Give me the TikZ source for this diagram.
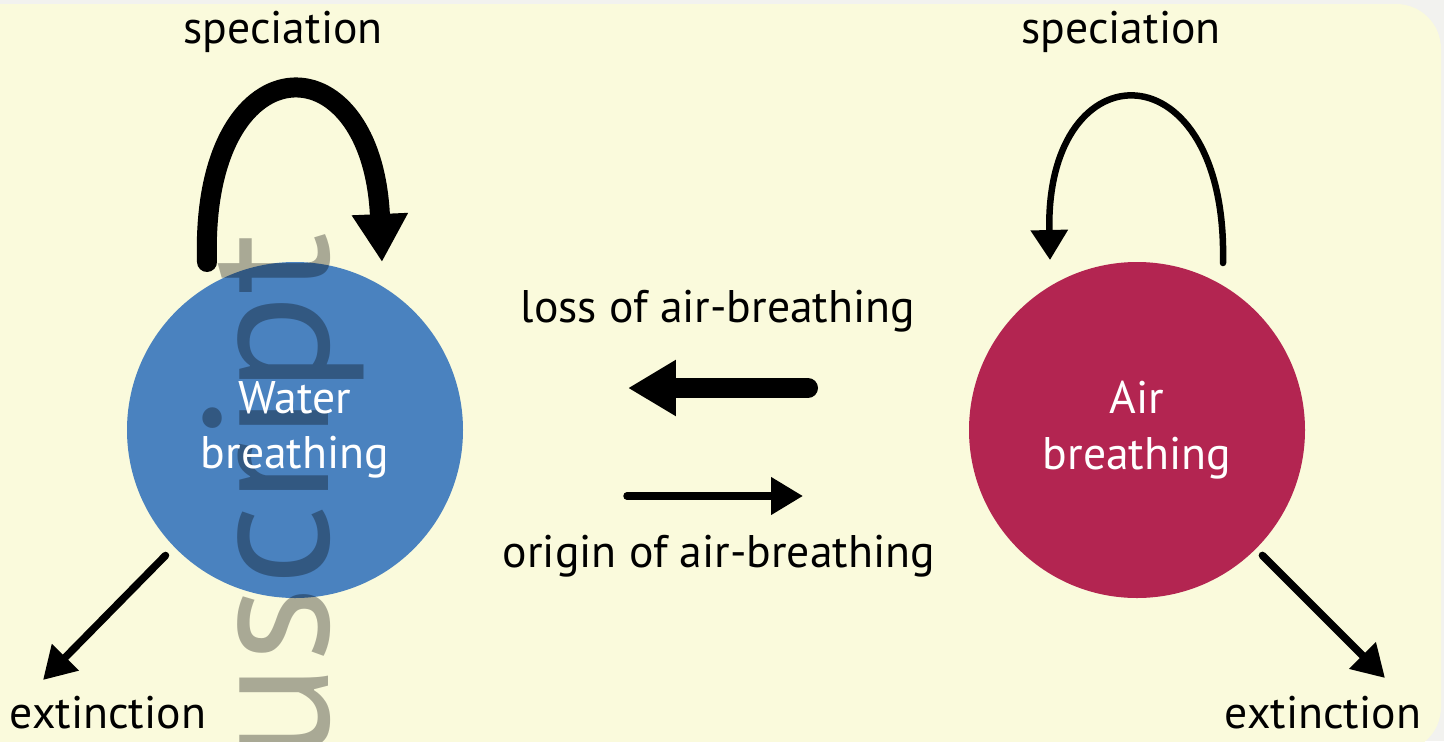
\documentclass[tikz,border=0pt]{standalone}
\usepackage{fontspec}
\setmainfont{PT Sans}
\newfontfamily\wmfont[FakeStretch=1.03]{PT Sans}
\usetikzlibrary{arrows.meta,positioning}
\pgfdeclarelayer{bg}
\pgfdeclarelayer{disc}
\pgfdeclarelayer{wm}
\pgfsetlayers{bg,disc,wm,main}

\definecolor{panel}{HTML}{FAFADC}
\definecolor{frame}{HTML}{F2F2EF}
\definecolor{waterblue}{HTML}{4A82BF}
\definecolor{airred}{HTML}{B32551}

\tikzset{
  lbl/.style={font=\fontsize{26}{31}\selectfont, inner sep=0pt, anchor=base},
  state/.style={circle, minimum size=6.72cm, inner sep=0pt, text=white, align=center,
    font=\fontsize{26}{31.5}\selectfont},
  thickarr/.style={line width=0.4cm, line cap=round, -{Triangle[length=0.96cm,width=1.06cm]}},
  thinarr/.style={line width=0.15cm, line cap=round, -{Triangle[length=0.64cm,width=0.72cm]}},
  loopthin/.style={line width=0.13cm, line cap=round, -{Triangle[length=0.6cm,width=0.72cm]}},
}

\begin{document}
\begin{tikzpicture}[x=0.02cm,y=-0.02cm]
		\useasboundingbox (0,0) rectangle (1444,741);
		\begin{pgfonlayer}{bg}
			\fill[frame] (0,0) rectangle (1444,741);
			\fill[panel, rounded corners=0.9cm] (-60,4) rectangle (1441,752);
		\end{pgfonlayer}
		% the two states
		\node[state] (water) at (295,430) {Water\\breathing};
		\node[state] (air) at (1137,430) {Air\\breathing};
		\begin{pgfonlayer}{disc}
			\fill[waterblue] (water.center) circle[radius=168];
			\fill[airred] (air.center) circle[radius=168];
		\end{pgfonlayer}
		\begin{pgfonlayer}{wm}
			\node[rotate=90, anchor=base east, inner sep=0pt, text=black, text opacity=0.32,
				font=\wmfont\fontsize{101}{101}\selectfont] (wmark) at (328,232) {nuscript};
		\end{pgfonlayer}
		% labels
		\node[lbl] (specw) at (283,43) {speciation};
		\node[lbl] (speca) at (1121,43) {speciation};
		\node[lbl] (loss) at (718,322) {loss of air-breathing};
		\node[lbl] (origin) at (719,567) {origin of air-breathing};
		\node[lbl] (extw) at (108,728) {extinction};
		\node[lbl] (exta) at (1323,728) {extinction};
		% end points
		\coordinate (w0) at (207,262);
		\coordinate (w1) at (382,262);
		\coordinate (a0) at (1223,263);
		\coordinate (a1) at (1050,260);
		\coordinate (l0) at (808,388);
		\coordinate (l1) at (628,388);
		\coordinate (o0) at (627,496);
		\coordinate (o1) at (803,496);
		\coordinate (ew) at (43,680);
		\coordinate (ea) at (1385,678);
		% arrows
		\draw[thickarr] (w0) .. controls (200,40) and (372,35) .. (w1);
		\draw[loopthin] (a0) .. controls (1228,45) and (1045,45) .. (a1);
		\draw[thickarr] (l0) -- (l1);
		\draw[thinarr] (o0) -- (o1);
		\draw[thinarr, shorten <=0.24cm] (water.224) -- (ew);
		\draw[thinarr, shorten <=0.18cm] (air.315) -- (ea);
	\end{tikzpicture}
\end{document}
